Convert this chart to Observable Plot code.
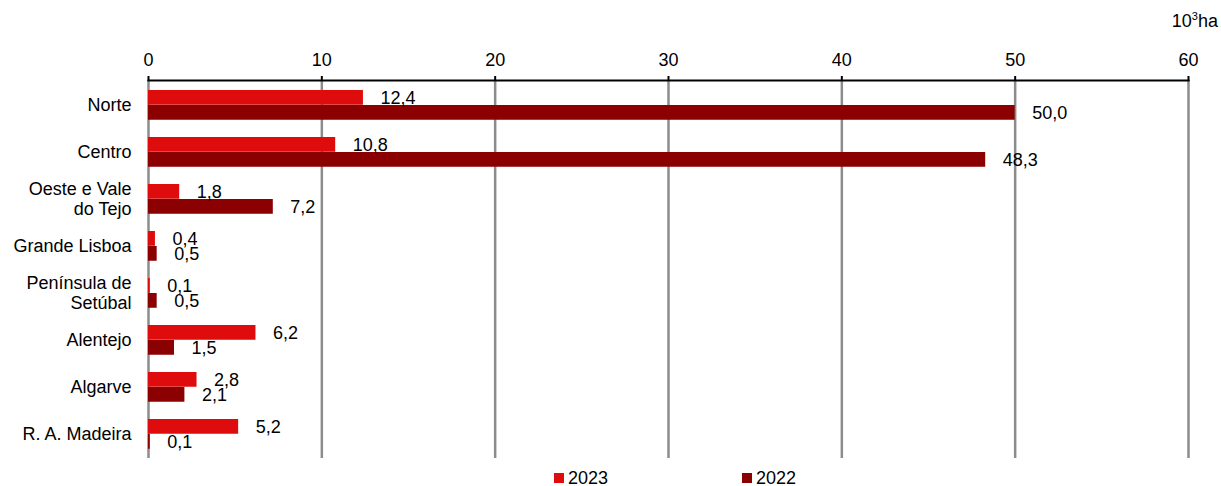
<!DOCTYPE html>
<html>
<head>
<meta charset="utf-8">
<script src="https://cdn.jsdelivr.net/npm/d3@7"></script>
<script src="https://cdn.jsdelivr.net/npm/@observablehq/plot@0.6"></script>
<style>
  body { margin: 0; background: #fff; font-family: "Liberation Sans", Arial, sans-serif; }
  #wrap { position: relative; width: 1221px; height: 486px; }
  #unit { position: absolute; top: 10px; right: 3px; font-size: 18px; color: #000; }
  #unit sup { font-size: 11px; vertical-align: 7px; }
  #legend { position: absolute; top: 466px; left: 0; width: 1221px; height: 24px; font-size: 18px; color: #000; }
  .item { position: absolute; top: 0; display: flex; align-items: center; line-height: 24px; }
  .sw { width: 10px; height: 10px; margin-right: 4px; }
</style>
</head>
<body>
<div id="wrap">
  <div id="chart"></div>
  <div id="unit">10<sup>3</sup>ha</div>
  <div id="legend"></div>
</div>
<script>
const regions = ["Norte", "Centro", "Oeste e Vale\ndo Tejo", "Grande Lisboa", "Península de\nSetúbal", "Alentejo", "Algarve", "R. A. Madeira"];
const values2023 = [12.4, 10.8, 1.8, 0.4, 0.1, 6.2, 2.8, 5.2];
const values2022 = [50.0, 48.3, 7.2, 0.5, 0.5, 1.5, 2.1, 0.1];
const xTicks = [0, 10, 20, 30, 40, 50, 60];
const seriesNames = ["2023", "2022"];
const seriesColors = ["#DE0C0C", "#8B0000"];

const d23 = regions.map((r, i) => ({region: r, value: values2023[i]}));
const d22 = regions.map((r, i) => ({region: r, value: values2022[i]}));
const fmt = v => v.toFixed(1).replace(".", ",");

const band = (458 - 80) / regions.length;

const chart = Plot.plot({
  width: 1221,
  height: 462,
  marginTop: 80,
  marginBottom: 4,
  marginLeft: 148,
  marginRight: 33,
  style: {fontFamily: "Liberation Sans, Arial, sans-serif", fontSize: "18px", color: "#000", background: "#fff"},
  x: {domain: [0, 60]},
  y: {domain: regions, padding: 0},
  marks: [
    Plot.ruleX(xTicks, {stroke: "#8c8c8c", strokeWidth: 2.5}),
    Plot.barX(d23, {x: "value", y: "region", fill: seriesColors[0], insetTop: 9, insetBottom: band - 24}),
    Plot.barX(d22, {x: "value", y: "region", fill: seriesColors[1], insetTop: 24, insetBottom: band - 39}),
    Plot.text(d23, {x: "value", y: "region", text: d => fmt(d.value), dx: 17, dy: 16.5 - band / 2, textAnchor: "start", fill: "#000", fontSize: 18}),
    Plot.text(d22, {x: "value", y: "region", text: d => fmt(d.value), dx: 17, dy: 31.5 - band / 2, textAnchor: "start", fill: "#000", fontSize: 18}),
    Plot.text(regions, {y: d => d, text: d => d, frameAnchor: "left", textAnchor: "end", dx: -17, lineHeight: 1.1, fill: "#000", fontSize: 18}),
    Plot.frame({anchor: "top", stroke: "#000", strokeWidth: 2}),
    Plot.axisX({anchor: "top", ticks: xTicks, tickSize: 5, tickPadding: 10, label: null, stroke: "#000", strokeWidth: 2, fontSize: 18}),
    Plot.axisY({ticks: [], label: null})
  ]
});
document.getElementById("chart").appendChild(chart);

const legend = document.getElementById("legend");
const lx = [554, 742];
seriesNames.forEach((name, i) => {
  const it = document.createElement("div");
  it.className = "item";
  it.style.left = lx[i] + "px";
  it.innerHTML = `<span class="sw" style="background:${seriesColors[i]}"></span><span>${name}</span>`;
  legend.appendChild(it);
});
</script>
</body>
</html>
